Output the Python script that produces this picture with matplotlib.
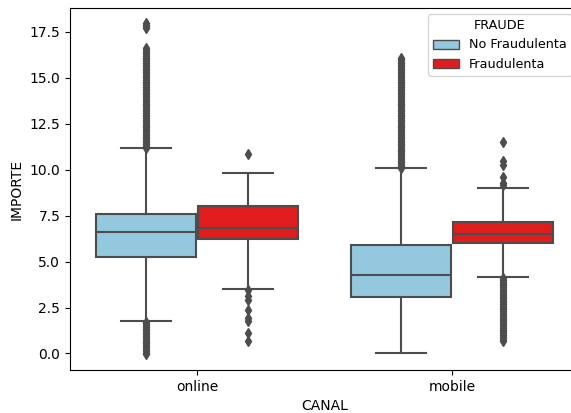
import matplotlib.pyplot as plt
from matplotlib.patches import Patch

canales = ["online", "mobile"]
fraude = ["No Fraudulenta", "Fraudulenta"]
colores = ["#93c8de", "#df1d1d"]

# box stats per (canal, fraude): q1, median, q3, lower whisker, upper whisker
q1 = [[5.27, 6.25], [3.06, 6.00]]
med = [[6.63, 6.85], [4.29, 6.50]]
q3 = [[7.61, 8.04], [5.89, 7.16]]
whislo = [[1.74, 3.53], [0.04, 4.15]]
whishi = [[11.18, 9.84], [10.09, 9.00]]

# outliers
online_no_fraude = [
    -0.05, 0.05, 0.15, 0.25, 0.35, 0.45, 0.55, 0.65, 0.75, 0.85,
    0.95, 1.05, 1.15, 1.25, 1.35, 1.45, 1.55, 1.65, 1.72,
    11.2, 11.3, 11.4, 11.5, 11.6, 11.7, 11.8, 11.9, 12.0, 12.1,
    12.2, 12.3, 12.4, 12.5, 12.6, 12.7, 12.8, 12.9, 13.0, 13.1,
    13.2, 13.3, 13.4, 13.5, 13.6, 13.7, 13.8, 13.9, 14.0, 14.1,
    14.2, 14.3, 14.4, 14.5, 14.6, 14.7, 14.8, 14.9, 15.0, 15.1,
    15.2, 15.3, 15.4, 15.5, 15.6, 15.7, 15.8, 15.9, 16.0, 16.1,
    16.2, 16.3, 16.4, 16.5, 16.6, 17.7, 17.8, 17.9, 18.0,
]
online_fraude = [0.67, 1.12, 1.76, 1.94, 2.39, 2.93, 3.11, 3.48, 10.85]
mobile_no_fraude = [
    10.1, 10.2, 10.3, 10.4, 10.5, 10.6, 10.7, 10.8, 10.9, 11.0,
    11.1, 11.2, 11.3, 11.4, 11.5, 11.6, 11.7, 11.8, 11.9, 12.0,
    12.1, 12.2, 12.3, 12.4, 12.5, 12.6, 12.7, 12.8, 12.9, 13.0,
    13.1, 13.2, 13.3, 13.4, 13.5, 13.6, 13.7, 13.8, 13.9, 14.0,
    14.1, 14.2, 14.3, 14.4, 14.5, 14.6, 14.7, 14.8, 14.9, 15.0,
    15.1, 15.2, 15.3, 15.4, 15.5, 15.6, 15.7, 15.8, 15.9, 16.0, 16.1,
]
mobile_fraude = [
    0.67, 0.8, 0.9, 1.0, 1.1, 1.2, 1.3, 1.4, 1.5, 1.6,
    1.7, 1.8, 1.9, 2.0, 2.1, 2.2, 2.3, 2.4, 2.5, 2.6,
    2.7, 2.8, 2.9, 3.0, 3.1, 3.2, 3.3, 3.4, 3.5, 3.6,
    3.7, 3.8, 3.9, 4.0, 4.1,
    9.18, 9.3, 9.63, 10.27, 10.45, 11.5,
]
fliers = [[online_no_fraude, online_fraude], [mobile_no_fraude, mobile_fraude]]

fig = plt.figure(figsize=(5.71, 4.13), dpi=100)
ax = fig.add_axes([0.1226, 0.1041, 0.8923, 0.8765])

gris = "#4d4d4d"
ancho = 0.4
for i, canal in enumerate(canales):
    for j in range(len(fraude)):
        stats = [{
            "q1": q1[i][j], "med": med[i][j], "q3": q3[i][j],
            "whislo": whislo[i][j], "whishi": whishi[i][j],
            "fliers": fliers[i][j],
        }]
        pos = i + (j - 0.5) * ancho
        ax.bxp(stats, positions=[pos], widths=ancho * 0.98, patch_artist=True,
               manage_ticks=False,
               boxprops=dict(facecolor=colores[j], edgecolor=gris, linewidth=1.5),
               medianprops=dict(color=gris, linewidth=1.5),
               whiskerprops=dict(color=gris, linewidth=1.5),
               capprops=dict(color=gris, linewidth=1.5),
               flierprops=dict(marker="d", markersize=5.5, markerfacecolor=gris,
                               markeredgecolor=gris, linestyle="none"))

ax.set_xlim(-0.5, 1.5)
ax.set_ylim(-0.9, 18.8)
ax.set_xticks(range(len(canales)))
ax.set_xticklabels(canales)
ax.set_yticks([0.0, 2.5, 5.0, 7.5, 10.0, 12.5, 15.0, 17.5])
ax.set_xlabel("CANAL")
ax.set_ylabel("IMPORTE")

handles = [Patch(facecolor=c, edgecolor=gris, label=f) for c, f in zip(colores, fraude)]
ax.legend(handles=handles, title="FRAUDE", loc="upper left", borderaxespad=0,
          fontsize=9.2, title_fontsize=9.2,
          bbox_to_anchor=(428 / 571, 1 - 14 / 413), bbox_transform=fig.transFigure)

fig.savefig("out.png", dpi=100)
